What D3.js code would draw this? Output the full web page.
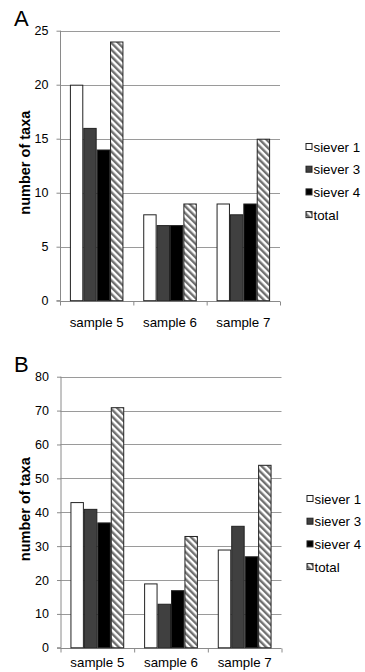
<!DOCTYPE html>
<html>
<head>
  <script src="https://d3js.org/d3.v7.min.js"></script>
  <style>
    body { margin: 0; background: #fff; }
    text { font-family: "Liberation Sans", Arial, sans-serif; fill: #000; }
  </style>
</head>
<body>
  <div id="chart"></div>
  <script>

  var samples = ["sample 5", "sample 6", "sample 7"];
  var series = ["siever 1", "siever 3", "siever 4", "total"];

  // taxa counts per sample, one array per siever / total
  var taxaA = {
    "siever 1": [20, 8, 9],
    "siever 3": [16, 7, 8],
    "siever 4": [14, 7, 9],
    "total":    [24, 9, 15]
  };
  var taxaB = {
    "siever 1": [43, 19, 29],
    "siever 3": [41, 13, 36],
    "siever 4": [37, 17, 27],
    "total":    [71, 33, 54]
  };
  var ticksA = [0, 5, 10, 15, 20, 25];
  var ticksB = [0, 10, 20, 30, 40, 50, 60, 70, 80];

  var width = 365, height = 672;

  var svg = d3.select("#chart").append("svg")
    .attr("width", width)
    .attr("height", height);

  // diagonal hatch for the "total" bars
  svg.append("defs").append("pattern")
    .attr("id", "hatch")
    .attr("patternUnits", "userSpaceOnUse")
    .attr("width", 4.8)
    .attr("height", 4.8)
    .attr("patternTransform", "rotate(-45)")
    .call(function(p) {
      p.append("rect").attr("width", 4.8).attr("height", 4.8).attr("fill", "#fff");
      p.append("rect").attr("x", 0).attr("width", 2.4).attr("height", 4.8).attr("fill", "#707070");
    });

  var fills = {
    "siever 1": "#fff",
    "siever 3": "#404040",
    "siever 4": "#000",
    "total": "url(#hatch)"
  };

  function panel(opts) {
    var g = svg.append("g");

    var x0 = d3.scaleBand()
      .domain(samples)
      .range([opts.left, opts.right]);

    var pad = x0.bandwidth() * 0.135;
    var x1 = d3.scaleBand()
      .domain(series)
      .range([pad, x0.bandwidth() - pad]);

    var y = d3.scaleLinear()
      .domain([0, d3.max(opts.ticks)])
      .range([opts.bottom, opts.top]);

    // panel letter
    g.append("text")
      .attr("x", 14)
      .attr("y", opts.top - 5)
      .style("font-size", "22px")
      .text(opts.letter);

    // gridlines
    g.selectAll(".grid")
      .data(opts.ticks.filter(function(d) { return d > 0; }))
      .enter().append("line")
      .attr("x1", opts.left)
      .attr("x2", opts.right)
      .attr("y1", function(d) { return Math.round(y(d)) + 0.5; })
      .attr("y2", function(d) { return Math.round(y(d)) + 0.5; })
      .attr("stroke", "#9a9a9a")
      .attr("stroke-width", 1);

    // y axis
    var yAxis = g.append("g")
      .attr("transform", "translate(" + (opts.left + 0.5) + ",0)")
      .call(d3.axisLeft(y).tickValues(opts.ticks).tickSize(4).tickPadding(8));
    yAxis.selectAll("path, line").attr("stroke", "#8a8a8a");
    yAxis.select(".domain").attr("d", "M-4," + y(0) + "H0V" + opts.top);
    yAxis.selectAll("text")
      .style("font-size", "12.5px")
      .style("font-family", "Liberation Sans, Arial, sans-serif")
      .attr("fill", "#000");

    // x axis with ticks between categories
    var base = Math.round(y(0)) + 0.5;
    g.append("line")
      .attr("x1", opts.left).attr("x2", opts.right)
      .attr("y1", base).attr("y2", base)
      .attr("stroke", "#8a8a8a");
    g.selectAll(".xtick")
      .data(samples.concat(["end"]))
      .enter().append("line")
      .attr("x1", function(d, i) { return (i < samples.length ? x0(d) : opts.right) + 0.5; })
      .attr("x2", function(d, i) { return (i < samples.length ? x0(d) : opts.right) + 0.5; })
      .attr("y1", base)
      .attr("y2", base + 4)
      .attr("stroke", "#8a8a8a");
    g.selectAll(".xlabel")
      .data(samples)
      .enter().append("text")
      .attr("x", function(d) { return x0(d) + x0.bandwidth() / 2; })
      .attr("y", opts.labelY)
      .attr("text-anchor", "middle")
      .style("font-size", "13.3px")
      .text(function(d) { return d; });

    // y axis title
    g.append("text")
      .attr("transform", "translate(30," + ((opts.top + opts.bottom) / 2 - 3) + ") rotate(-90)")
      .attr("text-anchor", "middle")
      .style("font-size", "14.5px")
      .style("font-weight", "bold")
      .text("number of taxa");

    // bars
    var groups = g.selectAll(".group")
      .data(samples)
      .enter().append("g")
      .attr("transform", function(d) { return "translate(" + x0(d) + ",0)"; });

    groups.selectAll("rect")
      .data(function(d, i) {
        return series.map(function(s) { return { key: s, value: opts.data[s][i] }; });
      })
      .enter().append("rect")
      .attr("x", function(d) { return x1(d.key) + 0.5; })
      .attr("y", function(d) { return y(d.value) + 0.5; })
      .attr("width", x1.bandwidth() - 1)
      .attr("height", function(d) { return y(0) - y(d.value) - 0.5; })
      .attr("fill", function(d) { return fills[d.key]; })
      .attr("stroke", "#222")
      .attr("stroke-width", 1);

    // legend
    var legend = g.selectAll(".legend")
      .data(series)
      .enter().append("g")
      .attr("transform", function(d, i) {
        return "translate(" + opts.legendX + "," + (opts.legendY + i * 22.7) + ")";
      });
    legend.append("rect")
      .attr("x", 0.5).attr("y", -3.5)
      .attr("width", 6).attr("height", 6)
      .attr("fill", function(d) { return fills[d]; })
      .attr("stroke", "#222");
    legend.append("text")
      .attr("x", 8)
      .attr("y", 4.5)
      .style("font-size", "13.3px")
      .text(function(d) { return d; });
  }

  panel({
    letter: "A", data: taxaA, ticks: ticksA,
    left: 60, right: 280, top: 30.7, bottom: 300.7,
    labelY: 327, legendX: 305.5, legendY: 147
  });

  panel({
    letter: "B", data: taxaB, ticks: ticksB,
    left: 60.5, right: 281.5, top: 376.7, bottom: 647.8,
    labelY: 667, legendX: 306.5, legendY: 499
  });

  </script>
</body>
</html>
